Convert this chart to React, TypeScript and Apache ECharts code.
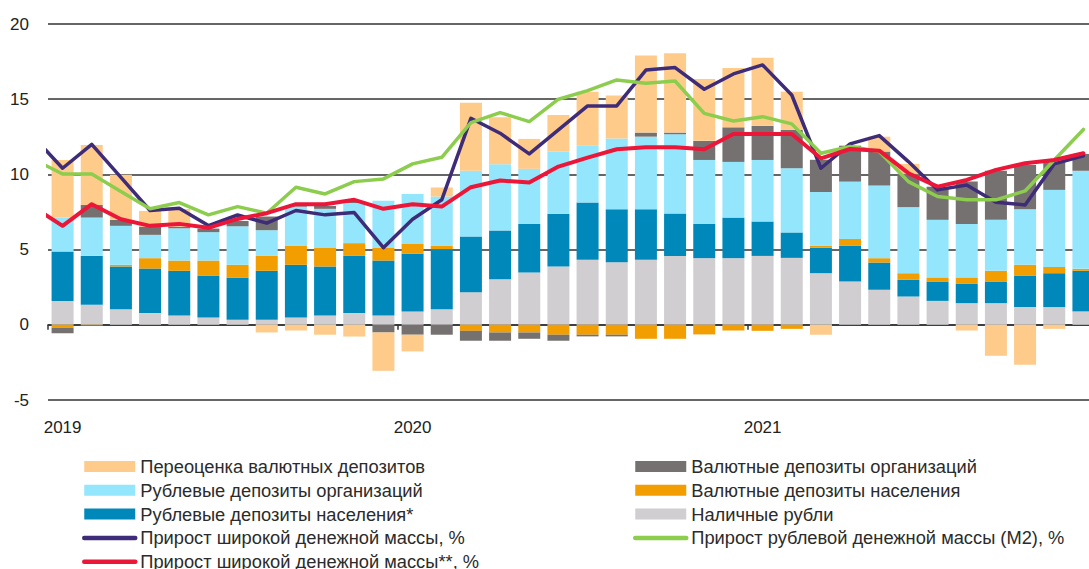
import React, { useEffect, useRef } from "react";
import * as echarts from "echarts";

// Year labels placed at January of each year
const years = ["2019", "2020", "2021"];
const months = years.flatMap((y) => ["01", "02", "03", "04", "05", "06", "07", "08", "09", "10", "11", "12"].map((m) => `${y}-${m}`));

// Bar components, Jan 2019 .. Dec 2021 (percentage points)
const cash = [1.59, 1.33, 1.04, 0.78, 0.62, 0.49, 0.33, 0.33, 0.49, 0.62, 0.78, 0.62, 0.89, 1.04, 2.17, 3.03, 3.48, 3.88, 4.32, 4.16, 4.32, 4.58, 4.43, 4.43, 4.58, 4.45, 3.43, 2.88, 2.33, 1.88, 1.59, 1.44, 1.44, 1.18, 1.18, 0.89];
const rubHH = [3.28, 3.25, 2.84, 2.96, 2.97, 2.79, 2.82, 3.26, 3.5, 3.26, 3.8, 3.65, 3.83, 3.99, 3.7, 3.24, 3.23, 3.5, 3.81, 3.53, 3.37, 2.82, 2.28, 2.7, 2.29, 1.69, 1.7, 2.39, 1.81, 1.11, 1.29, 1.28, 1.44, 2.1, 2.25, 2.7];
const fxHH = [-0.2, -0.05, 0.11, 0.69, 0.68, 0.99, 0.84, 0.99, 1.28, 1.26, 0.85, 0.87, 0.66, 0.24, -0.4, -0.51, -0.51, -0.66, -0.66, -0.66, -0.93, -0.93, -0.64, -0.38, -0.4, -0.27, 0.13, 0.44, 0.29, 0.44, 0.27, 0.43, 0.71, 0.71, 0.42, 0.13];
const rubCorp = [2.26, 2.55, 2.59, 1.55, 2.15, 1.89, 2.56, 1.71, 2.59, 2.57, 2.67, 3.11, 3.32, 3.26, 4.38, 4.41, 3.66, 4.14, 3.81, 4.69, 4.82, 5.27, 4.25, 3.7, 4.09, 4.27, 3.57, 3.81, 4.83, 4.39, 3.83, 3.56, 3.39, 3.7, 5.12, 6.52];
const fxCorp = [-0.37, 0.84, 0.4, 0.55, 0.1, 0.24, 0.35, 0.91, 0.05, 0.19, 0.1, -0.51, -0.66, -0.66, -0.66, -0.55, -0.42, -0.4, -0.11, -0.11, 0.27, 0.11, 1.27, 2.3, 2.27, 2.55, 2.14, 2.37, 2.26, 2.2, 2.2, 2.81, 3.27, 2.94, 1.88, 1.12];
const reval = [3.83, 3.99, 2.99, 1.04, 1.18, 0, 0, -0.51, -0.38, -0.66, -0.78, -2.55, -1.11, 0.6, 4.52, 3.12, 1.99, 2.43, 3.56, 2.86, 5.12, 5.27, 4.12, 3.94, 4.53, 2.54, -0.66, 0.07, 0.99, 0.68, 0, -0.38, -2.06, -2.66, -0.27, 0];

// Lines, Dec 2018 .. Dec 2021 (first point lies left of the plot and is clipped)
const broad = [12.5, 10.41, 12.0, 9.8, 7.6, 7.75, 6.6, 7.3, 6.76, 7.6, 7.31, 7.46, 5.13, 7.02, 8.31, 13.73, 12.74, 11.36, 12.96, 14.55, 14.55, 16.94, 17.1, 15.66, 16.68, 17.28, 15.28, 10.41, 12.03, 12.58, 10.85, 8.97, 9.3, 8.15, 7.97, 10.7, 11.24];
const m2 = [11.0, 10.03, 10.03, 8.86, 7.72, 8.13, 7.31, 7.86, 7.42, 9.15, 8.7, 9.52, 9.7, 10.7, 11.14, 13.44, 14.11, 13.51, 15.0, 15.57, 16.28, 16.06, 16.21, 14.06, 13.55, 13.84, 13.36, 11.41, 11.85, 11.52, 9.52, 8.53, 8.31, 8.31, 8.9, 10.96, 12.99];
const broad2 = [7.82, 6.58, 8.02, 7.02, 6.58, 6.71, 6.45, 7.04, 7.42, 8.02, 8.02, 8.31, 7.71, 8.02, 7.86, 9.15, 9.59, 9.46, 10.52, 11.12, 11.67, 11.8, 11.8, 11.67, 12.69, 12.69, 12.69, 11.07, 11.69, 11.58, 10.08, 9.19, 9.63, 10.3, 10.74, 10.96, 11.41];

const names = {
  reval: "Переоценка валютных депозитов",
  rubCorp: "Рублевые депозиты организаций",
  rubHH: "Рублевые депозиты населения*",
  broad: "Прирост широкой денежной массы, %",
  broad2: "Прирост широкой денежной массы**, %",
  fxCorp: "Валютные депозиты организаций",
  fxHH: "Валютные депозиты населения",
  cash: "Наличные рубли",
  m2: "Прирост рублевой денежной массы (М2), %",
};

const FONT = "'Liberation Sans', Arial, sans-serif";

export default function App() {
  const ref = useRef<HTMLDivElement>(null);

  useEffect(() => {
    if (!ref.current) return;
    const chart = echarts.init(ref.current, undefined, { renderer: "svg" });

    const lineData = (arr: number[]) => arr.map((v, i) => [i - 1, v]);

    const bar = (name: string, arr: number[], color: string) => ({
      name,
      type: "bar",
      stack: "total",
      barWidth: 22,
      xAxisIndex: 0,
      itemStyle: { color },
      data: arr,
    });
    const line = (name: string, arr: number[], color: string, width: number) => ({
      name,
      type: "line",
      xAxisIndex: 1,
      symbol: "none",
      clip: true,
      lineStyle: { color, width, cap: "round", join: "round" },
      itemStyle: { color },
      data: lineData(arr),
    });

    const legendText = { fontFamily: FONT, fontSize: 18.3, color: "#2b2b2b", lineHeight: 19 };
    const lineItem = (name: string) => ({
      name,
      itemStyle: { opacity: 0 },
      lineStyle: { width: 4.5, cap: "round" },
    });
    const legendBase = {
      orient: "vertical",
      top: 457,
      height: 160,
      padding: 0,
      itemWidth: 51,
      itemHeight: 11,
      itemGap: 4.8,
      textStyle: legendText,
    };

    chart.setOption({
      animation: false,
      textStyle: { fontFamily: FONT },
      grid: { left: 48, top: 24, width: 1050, height: 376 },
      legend: [
        {
          ...legendBase,
          left: 82,
          data: [
            { name: names.reval, icon: "rect" },
            { name: names.rubCorp, icon: "rect" },
            { name: names.rubHH, icon: "rect" },
            lineItem(names.broad),
            lineItem(names.broad2),
          ],
        },
        {
          ...legendBase,
          left: 633,
          data: [
            { name: names.fxCorp, icon: "rect" },
            { name: names.fxHH, icon: "rect" },
            { name: names.cash, icon: "rect" },
            lineItem(names.m2),
          ],
        },
      ],
      xAxis: [
        {
          type: "category",
          data: months,
          position: "bottom",
          axisLine: { show: false, onZero: false },
          axisTick: { show: false },
          splitLine: { show: false },
          axisLabel: {
            interval: 11,
            margin: 19,
            fontSize: 17,
            color: "#222",
            fontFamily: FONT,
            formatter: (v: string) => v.slice(0, 4),
          },
        },
        {
          type: "value",
          min: -0.5,
          max: 35.5,
          position: "bottom",
          axisLine: { show: true, onZero: true, lineStyle: { color: "#333", width: 1.5 } },
          axisTick: { show: true, customValues: [-0.5, 11.5, 23.5], length: 5, lineStyle: { color: "#333", width: 1.5 } },
          axisLabel: { show: false },
          splitLine: { show: false },
        },
      ],
      yAxis: {
        type: "value",
        min: -5,
        max: 20,
        interval: 5,
        axisLine: { show: false },
        axisTick: { show: false },
        axisLabel: { fontSize: 17, color: "#222", margin: 19, fontFamily: FONT },
        splitLine: { show: true, lineStyle: { color: "#333", width: 1.5 } },
      },
      series: [
        bar(names.cash, cash, "#D0CED0"),
        bar(names.rubHH, rubHH, "#0088BA"),
        bar(names.fxHH, fxHH, "#F29D00"),
        bar(names.rubCorp, rubCorp, "#93E6FC"),
        bar(names.fxCorp, fxCorp, "#757170"),
        bar(names.reval, reval, "#FECB8B"),
        line(names.broad, broad, "#3E2C78", 3.5),
        line(names.m2, m2, "#8CCD4E", 3.5),
        line(names.broad2, broad2, "#EC1639", 4),
      ],
    });

    return () => chart.dispose();
  }, []);

  return (
    <div style={{ position: "fixed", left: 0, top: 0, width: 1089, height: 569, overflow: "hidden", background: "#fff" }}>
      <div ref={ref} style={{ width: 1110, height: 569 }} />
    </div>
  );
}
